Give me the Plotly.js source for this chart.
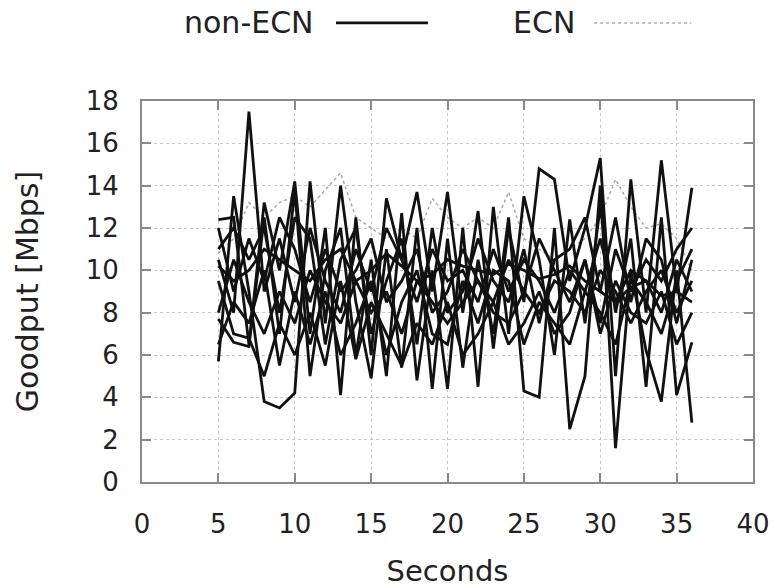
<!DOCTYPE html>
<html>
<head>
<meta charset="utf-8">
<script src="https://cdn.plot.ly/plotly-3.0.1.min.js"></script>
<style>html,body{margin:0;padding:0;background:#fff;}#chart{width:779px;height:588px;}</style>
</head>
<body>
<div id="chart"></div>
<script>
var seconds = [5,6,7,8,9,10,11,12,13,14,15,16,17,18,19,20,21,22,23,24,25,26,27,28,29,30,31,32,33,34,35,36];

var flowA = [10.5,8.0,17.5,9.0,11.5,8.5,12.0,9.5,8.0,11.0,9.0,12.0,10.5,8.5,11.0,9.5,10.0,8.5,11.0,9.0,10.5,9.5,8.0,10.0,9.0,11.5,8.5,10.0,9.5,8.0,10.5,9.0];
var flowB = [12.4,12.5,6.5,13.2,10.0,14.2,7.0,12.0,4.1,12.5,6.0,13.4,10.5,13.7,9.0,13.7,8.0,12.8,6.3,12.0,8.5,14.8,14.3,9.5,12.0,15.3,5.0,14.3,8.0,15.2,9.0,13.9];
var flowC = [5.7,13.5,9.0,3.8,3.5,4.2,14.2,7.5,14.0,8.5,4.9,11.0,5.4,12.0,4.4,11.5,5.4,10.5,7.0,12.5,4.3,4.0,12.0,2.5,5.0,14.0,1.6,10.0,6.2,3.8,10.0,2.8];
var flowD = [7.7,6.6,6.4,12.5,7.0,13.8,5.0,10.0,12.0,6.0,10.5,5.0,12.7,4.8,10.0,4.4,12.0,4.5,13.0,7.0,13.5,10.5,6.0,12.4,7.5,13.0,8.0,11.5,4.5,12.5,4.1,6.6];
var flowE = [10.2,9.5,10.0,11.0,10.5,10.0,9.5,10.5,11.0,9.5,10.0,10.8,10.2,9.5,9.8,10.5,10.2,10.0,9.8,10.3,10.0,9.6,9.8,10.2,9.5,9.0,8.5,9.2,9.5,8.8,9.0,8.5];
var flowF = [12.0,9.0,11.5,9.5,12.5,11.0,8.5,11.0,9.0,10.0,11.5,8.5,9.5,11.0,8.0,9.0,11.0,9.5,8.5,10.5,9.0,11.5,10.0,8.5,10.5,7.5,11.0,9.0,10.5,9.5,11.0,12.0];
var flowG = [8.0,10.5,8.5,7.0,9.0,7.5,10.0,8.5,7.5,9.5,8.0,9.0,7.0,9.5,8.5,7.5,8.5,9.5,8.0,7.5,9.0,8.0,9.5,9.0,8.0,10.0,9.0,7.5,9.0,10.0,8.0,9.5];
var flowH = [9.5,7.0,6.8,5.0,7.5,6.0,8.0,5.5,9.5,5.8,8.5,7.0,5.5,7.5,6.5,8.5,6.0,7.0,8.5,6.5,7.5,9.0,7.0,8.0,10.5,7.0,9.5,8.0,7.5,9.0,6.5,8.0];
var flowI = [11.0,12.0,10.5,12.0,8.0,12.5,11.5,6.5,10.5,12.0,7.0,9.5,11.5,6.5,12.0,8.0,9.0,11.5,9.5,8.5,11.0,7.5,10.5,11.0,12.5,9.0,12.5,8.5,11.5,10.5,7.5,10.5];
var flowJ = [6.5,8.5,7.5,10.0,5.5,9.0,6.5,9.0,6.0,7.5,9.5,6.0,8.5,10.0,7.0,6.5,9.5,7.5,10.0,9.5,6.5,8.5,7.5,6.5,9.0,8.0,6.5,9.5,8.5,7.0,9.5,11.0];
var ecnFlow = [10.8,11.5,13.2,12.5,13.2,13.5,13.0,13.8,14.6,12.5,12.0,11.5,12.0,11.5,13.4,12.5,12.0,12.5,12.0,13.7,11.5,11.0,10.5,11.0,11.5,12.5,14.3,13.0,12.0,12.2,11.5,10.0];

var xTicks = [0,5,10,15,20,25,30,35,40];
var yTicks = [0,2,4,6,8,10,12,14,16,18];
var legendNames = ["non-ECN","ECN"];

var nonEcn = [flowA,flowB,flowC,flowD,flowE,flowF,flowG,flowH,flowI,flowJ];
var traces = [];
traces.push({x: seconds, y: ecnFlow, type:'scatter', mode:'lines', name: legendNames[1],
  line:{color:'#a8a8a8', width:1.5, dash:'dot'}, showlegend:false});
nonEcn.forEach(function(s){
  traces.push({x: seconds, y: s, type:'scatter', mode:'lines', name: legendNames[0],
    line:{color:'#111', width:2.8}, showlegend:false});
});

var fontFam = '"DejaVu Sans", sans-serif';
var axisCommon = {
  showline:true, linecolor:'#8a8a8a', linewidth:2, mirror:'allticks',
  ticks:'inside', ticklen:9, tickwidth:2, tickcolor:'#8a8a8a',
  showgrid:true, gridcolor:'#c8c8c8', griddash:'dot', gridwidth:1,
  zeroline:false, tickfont:{family:fontFam, size:26, color:'#222'}
};

var layout = {
  width:779, height:588,
  margin:{l:142, r:26, t:101, b:106},
  paper_bgcolor:'#fff', plot_bgcolor:'#fff',
  showlegend:false,
  xaxis: Object.assign({}, axisCommon, {range:[0,40], tickvals:xTicks, ticktext:xTicks.map(String),
    ticklabelstandoff:18,
    title:{text:'Seconds', font:{family:fontFam, size:29, color:'#222'}, standoff:23}}),
  yaxis: Object.assign({}, axisCommon, {range:[0,18], tickvals:yTicks, ticktext:yTicks.map(String),
    ticklabelstandoff:16,
    title:{text:'Goodput [Mbps]', font:{family:fontFam, size:30, color:'#222'}, standoff:38}}),
  annotations:[
    {xref:'paper', yref:'paper', x:0.285, y:1.205, xanchor:'right', yanchor:'middle', showarrow:false,
     text:legendNames[0], font:{family:fontFam, size:30, color:'#222'}},
    {xref:'paper', yref:'paper', x:0.712, y:1.205, xanchor:'right', yanchor:'middle', showarrow:false,
     text:legendNames[1], font:{family:fontFam, size:30, color:'#222'}}
  ],
  shapes:[
    {type:'line', xref:'paper', yref:'paper', x0:0.3175, x1:0.468, y0:1.205, y1:1.205,
     line:{color:'#111', width:2.6}},
    {type:'line', xref:'paper', yref:'paper', x0:0.740, x1:0.899, y0:1.205, y1:1.205,
     line:{color:'#a8a8a8', width:1.5, dash:'dot'}}
  ]
};

Plotly.newPlot('chart', traces, layout, {displayModeBar:false, staticPlot:true});
</script>
</body>
</html>
